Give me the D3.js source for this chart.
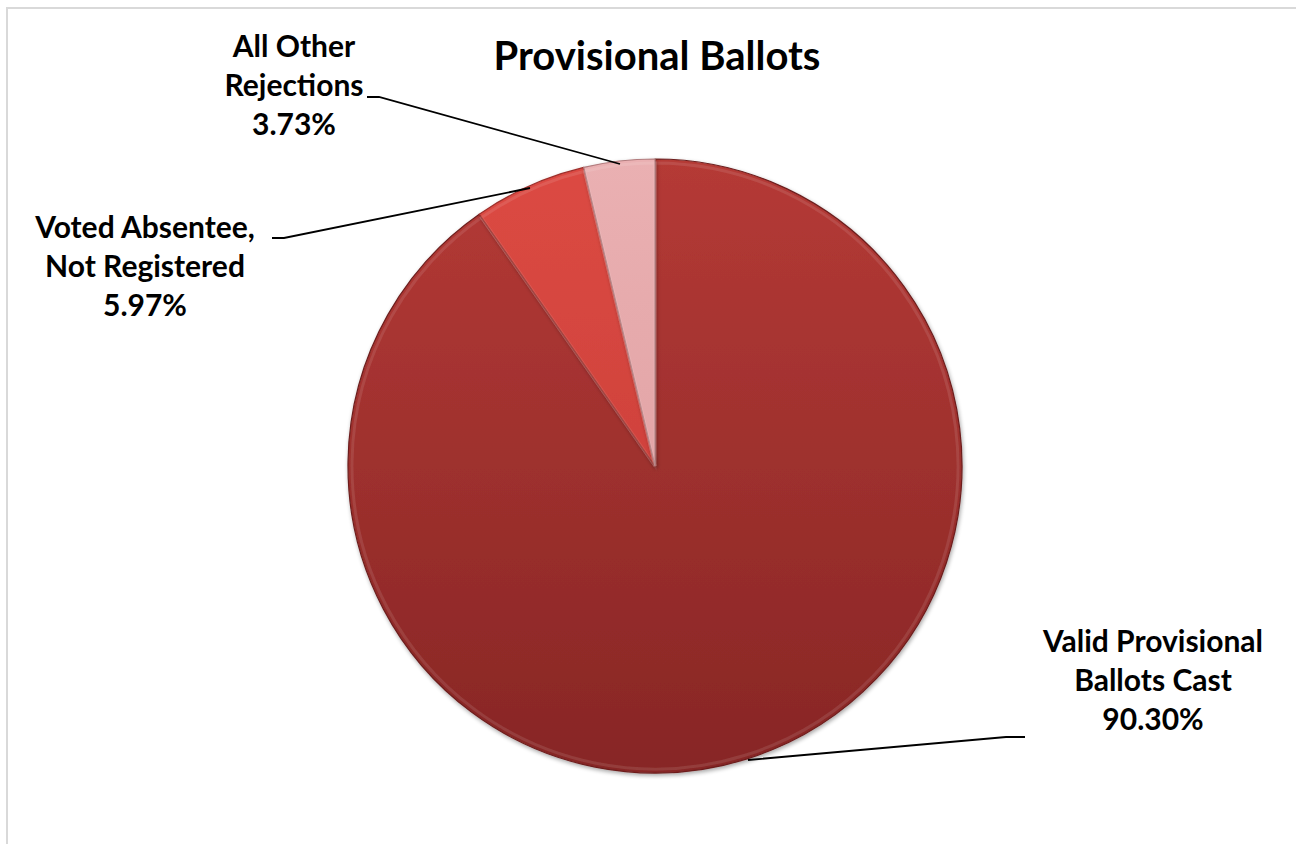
<!DOCTYPE html>
<html><head><meta charset="utf-8">
<script src="https://cdn.jsdelivr.net/npm/d3@7"></script>
<style>body{margin:0;background:#fff}svg{display:block}</style>
</head><body>
<svg id="c" width="1296" height="844"></svg>
<script>
const categories = ["Valid Provisional Ballots Cast", "Voted Absentee, Not Registered", "All Other Rejections"];
const labelLines = [["Valid Provisional", "Ballots Cast"], ["Voted Absentee,", "Not Registered"], ["All Other", "Rejections"]];
const values = [90.30, 5.97, 3.73];
const valueLabels = ["90.30%", "5.97%", "3.73%"];
const colorsTop = ["#b53a36", "#dc4a43", "#eab0b2"];
const colorsBot = ["#872625", "#c43a35", "#dc9a9c"];

const svg = d3.select("#c");
svg.append("rect").attr("x", 7).attr("y", 8).attr("width", 1320).attr("height", 900)
  .attr("fill", "#fff").attr("stroke", "#d9d9d9").attr("stroke-width", 2);

const cx = 655, cy = 466, R = 307;
const defs = svg.append("defs");
categories.forEach((c, i) => {
  const g = defs.append("linearGradient").attr("id", "g" + i)
    .attr("gradientUnits", "userSpaceOnUse")
    .attr("x1", 0).attr("y1", -R).attr("x2", 0).attr("y2", R);
  g.append("stop").attr("offset", "0%").attr("stop-color", colorsTop[i]);
  g.append("stop").attr("offset", "100%").attr("stop-color", colorsBot[i]);
});
const sh = defs.append("filter").attr("id", "sh").attr("x", "-10%").attr("y", "-10%").attr("width", "120%").attr("height", "120%");
sh.append("feGaussianBlur").attr("in", "SourceAlpha").attr("stdDeviation", 2).attr("result", "b");
sh.append("feOffset").attr("in", "b").attr("dx", 1).attr("dy", 2).attr("result", "o");
sh.append("feComponentTransfer").attr("in", "o").attr("result", "o2")
  .append("feFuncA").attr("type", "linear").attr("slope", 0.35);
const mg = sh.append("feMerge");
mg.append("feMergeNode").attr("in", "o2");
mg.append("feMergeNode").attr("in", "SourceGraphic");

const pie = d3.pie().sort(null).value(d => d)(values);
const arc = d3.arc().innerRadius(0).outerRadius(R);
const arcIn = d3.arc().innerRadius(0).outerRadius(R - 4);
const g = svg.append("g").attr("transform", `translate(${cx},${cy})`);
const slices = g.selectAll("g.s").data(pie).join("g").attr("class", "s").attr("filter", "url(#sh)");
slices.append("path").attr("d", arc).attr("fill", (d, i) => `url(#g${i})`)
  .attr("stroke", (d, i) => d3.color(colorsBot[i]).darker(0.6)).attr("stroke-width", 1.2).attr("stroke-linejoin", "round");
slices.append("path").attr("d", arcIn).attr("fill", "none")
  .attr("stroke", "#ffffff").attr("stroke-opacity", 0.1).attr("stroke-width", 3);

svg.append("text").attr("x", 657).attr("y", 70).attr("text-anchor", "middle")
  .attr("font-family", "Lato, 'Open Sans', sans-serif").attr("font-weight", "bold")
  .attr("font-size", 40).attr("fill", "#000").text("Provisional Ballots");

const labelPos = [[1153, 652], [145, 238], [294, 57]];
const leaders = [
  [[1025, 737], [1006, 737], [748, 760]],
  [[272, 238], [284, 238], [530, 188]],
  [[367, 97], [379, 97], [620, 164]]
];
const lineGap = 39;
categories.forEach((c, i) => {
  const t = svg.append("text").attr("text-anchor", "middle")
    .attr("font-family", "Lato, 'Open Sans', sans-serif").attr("font-weight", "bold")
    .attr("font-size", 30).attr("fill", "#000");
  const lines = labelLines[i].concat([valueLabels[i]]);
  lines.forEach((l, k) => {
    t.append("tspan").attr("x", labelPos[i][0]).attr("y", labelPos[i][1] + k * lineGap).text(l);
  });
  svg.append("path").attr("d", d3.line()(leaders[i])).attr("fill", "none")
    .attr("stroke", "#000").attr("stroke-width", 1.8);
});
</script>
</body></html>
